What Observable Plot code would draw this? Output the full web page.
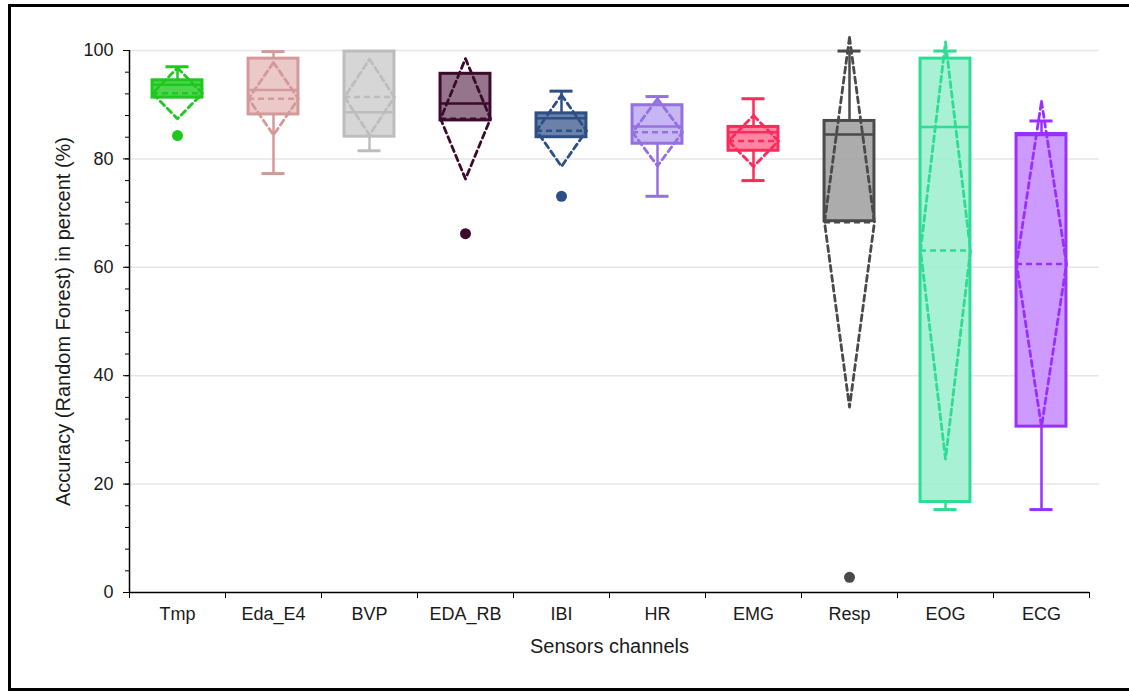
<!DOCTYPE html>
<html><head><meta charset="utf-8">
<script src="https://cdn.jsdelivr.net/npm/d3@7"></script>
<script src="https://cdn.jsdelivr.net/npm/@observablehq/plot@0.6"></script>
<style>
body{margin:0;background:#fff;overflow:hidden}
#wrap{position:relative;width:1129px;height:692px}
#border{position:absolute;left:8px;top:4px;width:1140px;height:681px;border:3px solid #000;pointer-events:none}
</style></head><body><div id="wrap"><div id="chart"></div><div id="border"></div></div>
<script>
const channels = ["Tmp","Eda_E4","BVP","EDA_RB","IBI","HR","EMG","Resp","EOG","ECG"];
const whiskerLow  = [91.3, 77.3, 81.5, 87.1, 84.0, 73.1, 76.0, 68.5, 15.3, 15.3];
const q1          = [91.3, 88.2, 84.1, 87.1, 84.0, 82.8, 81.5, 68.5, 16.7, 30.6];
const median      = [93.7, 92.7, 88.6, 90.2, 87.5, 86.0, 84.9, 84.5, 85.9, 84.4];
const q3          = [94.5, 98.5, 99.8, 95.7, 88.4, 89.9, 85.9, 87.0, 98.5, 84.6];
const whiskerHigh = [97.0, 99.8, 99.8, 95.7, 92.5, 91.5, 91.1, 99.9, 99.9, 87.0];
const mean        = [92.1, 91.1, 91.4, 87.4, 85.2, 84.9, 83.3, 68.3, 63.1, 60.6];
const sd          = [4.7, 6.7, 7.0, 11.1, 6.6, 6.2, 4.7, 34.1, 38.5, 30.0];
const outlierChannel = ["Tmp","EDA_RB","IBI","Resp"];
const outlierValue   = [84.3, 66.2, 73.1, 2.8];
const strokeColors = ["#1ec81e","#d49a9a","#bdbdbd","#3b0a2c","#2e4f86","#9470e0","#ff2a5c","#4a4a4a","#2edc94","#9a30ff"];
const fillColors   = ["#3ccf3c","#e9c3c3","#d2d2d2","#8a6680","#5a74a0","#c0aef2","#ff7898","#a3a3a3","#a0f0cf","#c890ff"];
const yTicks = [0, 20, 40, 60, 80, 100];
const yMinorStep = 4;
const yLabel = "Accuracy (Random Forest) in percent (%)";
const xLabel = "Sensors channels";

const HW = 0.26;   // box half width (band units)
const CW = 0.12;   // cap half width
const idx = channels.map((_, i) => i);
const stats = idx.map(i => ({
  i, name: channels[i], lo: whiskerLow[i], q1: q1[i], med: median[i], q3: q3[i], hi: whiskerHigh[i],
  mean: mean[i], sd: sd[i], stroke: strokeColors[i], fill: fillColors[i]
}));
const diamond = stats.flatMap(s => [
  {i: s.i, x: s.i, y: s.mean + s.sd, c: s.stroke},
  {i: s.i, x: s.i + HW, y: s.mean, c: s.stroke},
  {i: s.i, x: s.i, y: s.mean - s.sd, c: s.stroke},
  {i: s.i, x: s.i - HW, y: s.mean, c: s.stroke},
  {i: s.i, x: s.i, y: s.mean + s.sd, c: s.stroke}
]);
const outliers = outlierChannel.map((c, k) => {
  const i = channels.indexOf(c);
  return {x: i, y: outlierValue[k], c: strokeColors[i]};
});
const lowW = stats.filter(s => s.lo < s.q1);
const hiW = stats.filter(s => s.hi > s.q3);
const minor = d3.range(0, 100 + 1e-9, yMinorStep);
const bounds = idx.map(i => i - 0.5).concat([channels.length - 0.5]);

const chart = Plot.plot({
  width: 1129, height: 692,
  marginLeft: 129, marginRight: 40, marginTop: 50, marginBottom: 100,
  x: {type: "linear", domain: [-0.5, channels.length - 0.5]},
  y: {domain: [0, 100]},
  style: {fontFamily: "'Liberation Sans', Arial, sans-serif", fontSize: "18px", color: "#1a1a1a", background: "#fff", overflow: "visible"},
  marks: [
    Plot.ruleY(yTicks.filter(t => t > 0), {x1: -0.5, x2: channels.length - 0.4, stroke: "#e6e6e6", strokeWidth: 1.5}),
    Plot.rect(stats, {x1: d => d.i - HW, x2: d => d.i + HW, y1: "q1", y2: "q3", fill: d => d.fill, fillOpacity: 0.9, stroke: d => d.stroke, strokeWidth: 3}),
    Plot.ruleY(stats, {x1: d => d.i - HW, x2: d => d.i + HW, y: "med", stroke: d => d.stroke, strokeWidth: 2.5}),
    Plot.ruleX(lowW, {x: "i", y1: "lo", y2: "q1", stroke: d => d.stroke, strokeWidth: 2.5}),
    Plot.ruleX(hiW, {x: "i", y1: "q3", y2: "hi", stroke: d => d.stroke, strokeWidth: 2.5}),
    Plot.ruleY(lowW, {x1: d => d.i - CW, x2: d => d.i + CW, y: "lo", stroke: d => d.stroke, strokeWidth: 3}),
    Plot.ruleY(hiW, {x1: d => d.i - CW, x2: d => d.i + CW, y: "hi", stroke: d => d.stroke, strokeWidth: 3}),
    Plot.ruleY(stats, {x1: d => d.i - HW, x2: d => d.i + HW, y: "mean", stroke: d => d.stroke, strokeWidth: 2.5, strokeDasharray: "6,4"}),
    Plot.line(diamond, {x: "x", y: "y", z: "i", stroke: "c", strokeWidth: 2.8, strokeDasharray: "6,4", curve: "linear"}),
    Plot.dot(outliers, {x: "x", y: "y", fill: "c", r: 5.5, stroke: null}),
    Plot.ruleY([0], {x1: -0.5, x2: channels.length - 0.5, stroke: "#000", strokeWidth: 1.5}),
    Plot.ruleX([-0.5], {y1: 0, y2: 100, stroke: "#000", strokeWidth: 1.5}),
    Plot.axisY({ticks: minor, tickSize: 4, tickFormat: () => "", label: null, stroke: "#000"}),
    Plot.axisY({ticks: yTicks, tickSize: 6, tickPadding: 10, label: null, stroke: "#000"}),
    Plot.axisX({ticks: bounds, tickSize: 6, tickFormat: () => "", label: null, stroke: "#000"}),
    Plot.axisX({ticks: idx, tickSize: 0, tickPadding: 15, tickFormat: i => channels[i], label: null}),
    Plot.text([yLabel], {frameAnchor: "left", dx: -66, rotate: -90, textAnchor: "middle", lineAnchor: "middle", fontSize: 20, fill: "#1a1a1a", text: d => d}),
    Plot.text([xLabel], {frameAnchor: "bottom", dy: 54, textAnchor: "middle", lineAnchor: "middle", fontSize: 20, fill: "#1a1a1a", text: d => d})
  ]
});
document.getElementById("chart").appendChild(chart);
</script></body></html>
